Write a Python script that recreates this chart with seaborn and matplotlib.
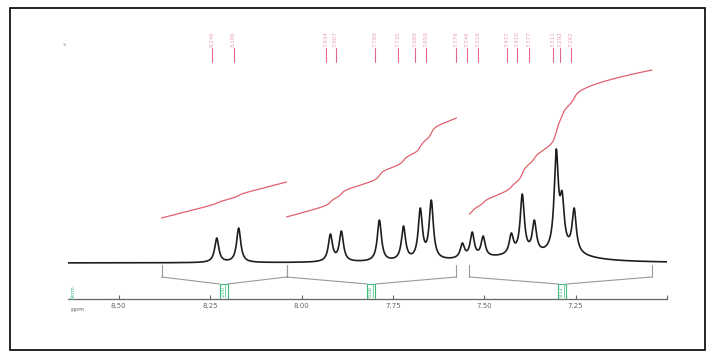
import numpy as np
import pandas as pd
import matplotlib
matplotlib.use("Agg")
import matplotlib.pyplot as plt
import seaborn as sns
from matplotlib.patches import Rectangle

# ---- data ----
peak_ppm = [8.232, 8.172, 7.921, 7.891, 7.787, 7.721, 7.675, 7.645, 7.560,
            7.533, 7.503, 7.426, 7.396, 7.363, 7.303, 7.287, 7.254]
peak_apex = [25, 35, 29, 32, 43, 37, 55, 63, 20, 31, 27, 30, 69, 43, 114, 72, 55]
broad_ppm = [7.42, 7.28]
broad_height = [5, 7]
broad_hw = [0.15, 0.07]
label_ppm = [8.246, 8.186, 7.934, 7.907, 7.798, 7.735, 7.689, 7.659, 7.576,
             7.546, 7.516, 7.437, 7.410, 7.377, 7.311, 7.292, 7.262]
int_from = [8.383, 8.041, 7.541]
int_to = [8.041, 7.576, 7.041]
int_start = [45, 46, 49]
int_end = [81, 145, 193]
int_drift = [92, 92, 58]
int_labels = ["2.00", "6.08", "9.12"]
int_box_ppm = [8.213, 7.809, 7.287]
tick_ppm = [8.50, 8.25, 8.00, 7.75, 7.50, 7.25]
tick_labels = ["8.50", "8.25", "8.00", "7.75", "7.50", "7.25"]

# ---- style ----
sns.set_theme(style="white")
plt.rcParams['font.family'] = ['DejaVu Sans']
HW = 0.0068
SPEC_C = "#1e1e1e"
INT_C = "#e0606e"
LAB_C = "#e9a3b6"
GREEN = "#3dbb7d"
GRAY = "#9a9a9a"

def lor(x, c, g):
    return 1.0 / (1.0 + ((x - c) / g) ** 2)

x = np.linspace(8.639, 7.0, 5000)
P = np.array(peak_ppm)
broad = sum(h * lor(x, c, g) for c, h, g in zip(broad_ppm, broad_height, broad_hw))
broad_p = sum(h * lor(P, c, g) for c, h, g in zip(broad_ppm, broad_height, broad_hw))
M = lor(P[:, None], P[None, :], HW)
amps = np.linalg.solve(M, np.array(peak_apex, float) - broad_p)
spec = broad + (amps[None, :] * lor(x[:, None], P[None, :], HW)).sum(axis=1)
df = pd.DataFrame({"ppm": x, "intensity": spec})

fig = plt.figure(figsize=(7.15, 3.56), dpi=100)
ax = fig.add_axes([68 / 715, 0, 599 / 715, 1])
sns.lineplot(data=df, x="ppm", y="intensity", ax=ax, color=SPEC_C, lw=1.2,
             estimator=None, sort=False)
ax.set_xlim(8.639, 7.0)
ax.set_ylim(-93, 263)

# integral curves
for a, b, s, e, d in zip(int_from, int_to, int_start, int_end, int_drift):
    m = (x <= a) & (x >= b)
    xs, ys = x[m], spec[m]
    cum = np.concatenate([[0], np.cumsum(0.5 * (ys[1:] + ys[:-1]) * np.abs(np.diff(xs)))])
    k = (e - s - d * (a - b)) / cum[-1]
    ax.plot(xs, s + k * cum + d * (a - xs), color=INT_C, lw=0.9)

# integral brackets and boxes
bw = 0.011
for a, b, c, lab in zip(int_from, int_to, int_box_ppm, int_labels):
    for edge in (a, b):
        ax.plot([edge, edge], [-2, -14], color=GRAY, lw=0.8)
    ax.plot([a, c + bw], [-14, -21], color=GRAY, lw=0.8)
    ax.plot([b, c - bw], [-14, -21], color=GRAY, lw=0.8)
    ax.add_patch(Rectangle((c - bw, -36), 2 * bw, 15, fill=False, ec=GREEN, lw=0.8))
    ax.plot([c - bw * 0.4, c - bw * 0.4], [-34, -22], color=GREEN, lw=0.5)
    ax.text(c + bw * 0.25, -28.5, lab, rotation=90, fontsize=3.5, color=GREEN,
            ha="center", va="center")
ax.text(8.625, -28, "Norm.", rotation=90, fontsize=3.5, color=GREEN,
        ha="center", va="center")

# peak labels
for p in label_ppm:
    ax.plot([p, p], [215, 201], color="#e06a88", lw=0.8)
    ax.text(p, 224, f"{p:.3f}", rotation=90, fontsize=4, color=LAB_C,
            ha="center", va="center")

# axis
for s in ("left", "top", "right"):
    ax.spines[s].set_visible(False)
ax.spines["bottom"].set_position(("data", -36))
ax.spines["bottom"].set_color("#666666")
ax.spines["bottom"].set_linewidth(0.9)
ax.set_yticks([])
ax.set_xticks(tick_ppm + [7.0])
ax.set_xticklabels(tick_labels + [""])
ax.tick_params(axis="x", direction="in", length=3, width=0.8, colors="#666666",
               labelsize=5, pad=3, bottom=True)
ax.set_xlabel("")
ax.set_ylabel("")
ax.text(8.612, -46, "ppm", fontsize=4.5, color="#666666", ha="center", va="center")
ax.patch.set_alpha(0)

fig.text(65 / 715, 1 - 46 / 356, "*", fontsize=5, color="#999999", ha="center", va="center")
fig.add_artist(Rectangle((10 / 715, 6 / 356), 695 / 715, 342 / 356,
                         transform=fig.transFigure, fill=False, ec="black", lw=1.2))

fig.savefig("out.png", dpi=100)
